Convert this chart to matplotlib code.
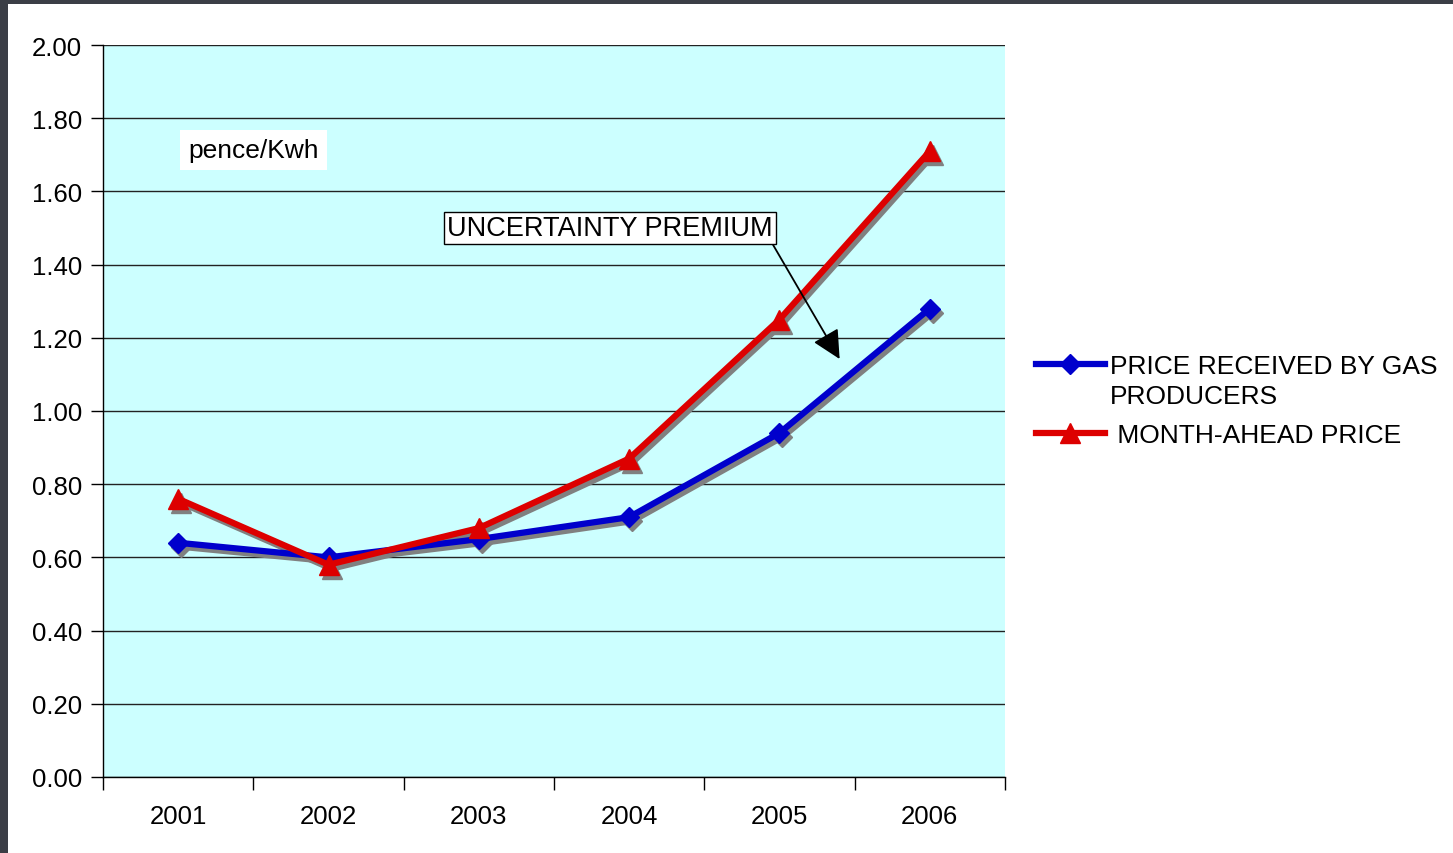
import matplotlib
matplotlib.use("Agg")
import matplotlib.pyplot as plt
import matplotlib.transforms as mtransforms
from matplotlib.patches import Rectangle

plt.rcParams['font.family'] = ['Liberation Sans', 'DejaVu Sans']

years = ["2001", "2002", "2003", "2004", "2005", "2006"]
producer_price = [0.64, 0.60, 0.65, 0.71, 0.94, 1.28]
month_ahead_price = [0.76, 0.58, 0.68, 0.87, 1.25, 1.71]
y_ticks = [0.00, 0.20, 0.40, 0.60, 0.80, 1.00, 1.20, 1.40, 1.60, 1.80, 2.00]

fig = plt.figure(figsize=(14.53, 8.54), dpi=100)
fig.patch.set_facecolor("white")

# dark slide frame along top and left edges
fig.patches.append(Rectangle((0, 0), 8 / 1453, 1, transform=fig.transFigure,
                             facecolor="#3b3e46", edgecolor="none", zorder=0))
fig.patches.append(Rectangle((0, 1 - 5 / 854), 1, 5 / 854, transform=fig.transFigure,
                             facecolor="#3b3e46", edgecolor="none", zorder=0))

ax = fig.add_axes([103 / 1453, 76 / 854, 902 / 1453, 732 / 854])
ax.set_facecolor("#ccffff")

x = list(range(len(years)))

# drop shadow: same series shifted a few pixels right and down
shadow_tf = mtransforms.offset_copy(ax.transData, fig=fig, x=3, y=-4, units="dots")
ax.plot(x, producer_price, color="#808080", lw=4.5, marker="D", ms=10,
        markeredgecolor="#808080", transform=shadow_tf, zorder=3)
ax.plot(x, month_ahead_price, color="#808080", lw=4.5, marker="^", ms=15,
        markeredgecolor="#808080", transform=shadow_tf, zorder=3)

ax.plot(x, producer_price, color="#0000cc", lw=4.5, marker="D", ms=10,
        markeredgecolor="#0000cc", label="PRICE RECEIVED BY GAS", zorder=4)
ax.plot(x, month_ahead_price, color="#dd0000", lw=4.5, marker="^", ms=15,
        markeredgecolor="#dd0000", label=" MONTH-AHEAD PRICE", zorder=5)

ax.set_xlim(-0.5, len(years) - 0.5)
ax.set_ylim(0, 2.0)
ax.set_yticks(y_ticks)
ax.set_yticklabels([f"{v:.2f}" for v in y_ticks])
ax.yaxis.grid(True, color="#222222", lw=1.0)
ax.set_axisbelow(True)

# category labels between boundary ticks
ax.set_xticks([i - 0.5 for i in range(len(years) + 1)])
ax.set_xticklabels([])
ax.set_xticks(x, minor=True)
ax.set_xticklabels(years, minor=True)
ax.tick_params(axis="x", which="major", direction="out", length=9, width=1, color="black")
ax.tick_params(axis="x", which="minor", length=0, pad=19.5, labelsize=18.5)
ax.tick_params(axis="y", direction="out", length=9, width=1, labelsize=18.5, pad=6)

for side in ("top", "right"):
    ax.spines[side].set_visible(False)
for side in ("left", "bottom"):
    ax.spines[side].set_color("black")
    ax.spines[side].set_linewidth(1)

ax.text(0.5, 1.713, "pence/Kwh", fontsize=19, ha="center", va="center",
        bbox=dict(boxstyle="square,pad=0.3", facecolor="white", edgecolor="none"),
        zorder=6)

ax.annotate("UNCERTAINTY PREMIUM", xy=(4.40, 1.142), xytext=(2.87, 1.50),
            fontsize=19.5, ha="center", va="center",
            bbox=dict(boxstyle="square,pad=0.12", facecolor="white", edgecolor="black", lw=1),
            arrowprops=dict(arrowstyle="-|>,head_length=0.9,head_width=0.45",
                            color="black", lw=1.3, shrinkA=0, shrinkB=0,
                            relpos=(0.995, 0.0)),
            zorder=7)

leg = fig.legend(loc="upper left", bbox_to_anchor=(1036 / 1453, 1 - 355 / 854),
                 frameon=False, fontsize=19, handlelength=2.6, handletextpad=0.2,
                 labelspacing=1.7, borderaxespad=0, borderpad=0)

# second line of the first legend label, aligned under its first line
fig.canvas.draw()
first = leg.get_texts()[0]
bb = first.get_window_extent()
fig.text(bb.x0 / fig.bbox.width, (bb.y0 - 30) / fig.bbox.height, "PRODUCERS",
         fontsize=19, ha="left", va="bottom")

fig.savefig("out.png", dpi=100, facecolor=fig.get_facecolor())
